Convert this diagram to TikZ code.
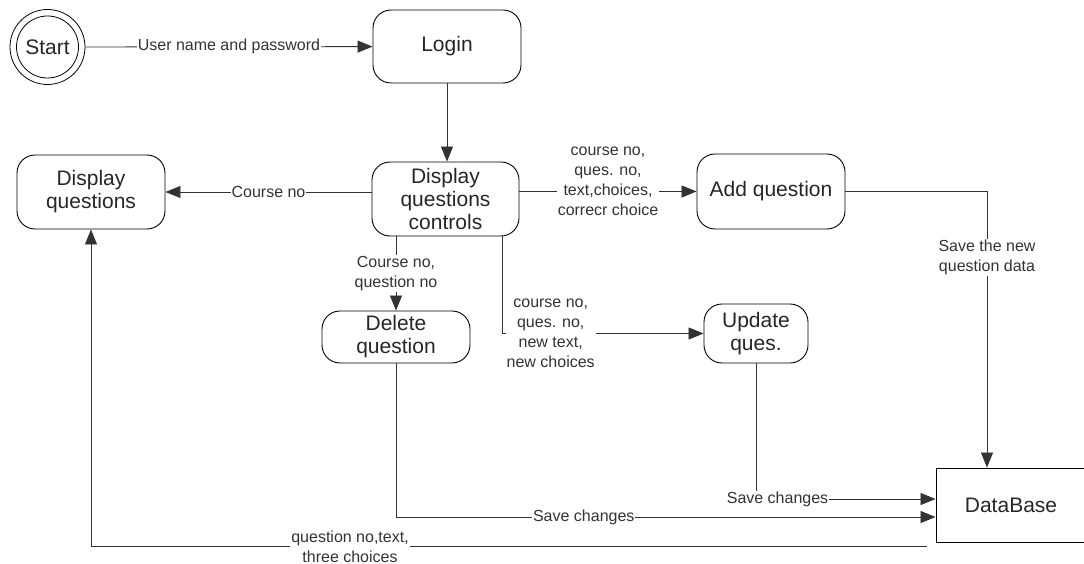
\documentclass[tikz,border=0pt]{standalone}
\usepackage{fontspec}
\setmainfont{Liberation Sans}
\usetikzlibrary{arrows.meta, positioning}

\begin{document}
\begin{tikzpicture}[x=1pt, y=-1pt,
    box/.style={draw, line width=0.9pt, rounded corners=18pt, align=center, inner sep=0pt,
        font=\fontsize{21}{23}\selectfont, text=black!85},
    flow/.style={-{Triangle[length=15pt, width=12pt]}, line width=0.8pt, draw=black!80},
    lbl/.style={fill=white, align=center, inner sep=1pt,
        font=\fontsize{16}{20}\selectfont, text=black!80}]
    \useasboundingbox (0,0) rectangle (1084,564);

    % States
    \node (start) [circle, draw, line width=0.8pt, outer sep=6.9pt, minimum size=62pt, inner sep=0pt,
        font=\fontsize{21}{23}\selectfont, text=black!85] at (47.5,47) {Start};
    \draw[line width=0.8pt] (start.center) circle[radius=37.5pt];
    \node (login) [box, minimum width=148pt, minimum height=73pt] at (447,46.5) {Login};
    \node (dqc) [box, minimum width=147pt, minimum height=74pt] at (445.5,199) {Display\\questions\\controls};
    \node (dq) [box, minimum width=148pt, minimum height=74pt] at (91,192) {Display\\questions};
    \node (add) [box, minimum width=148pt, minimum height=75pt] at (771,191.5) {Add question};
    \node (del) [box, minimum width=148pt, minimum height=52pt] at (396,337) {Delete\\question};
    \node (upd) [box, minimum width=104pt, minimum height=59pt] at (756,333.5) {Update\\ques.};
    \node (db) [box, rounded corners=0pt, minimum width=150pt, minimum height=74pt] at (1011,505) {DataBase};
    \coordinate (dbout) at ([xshift=-9pt, yshift=-4pt]db.south west);

    % Connections
    \draw[flow] (start) -- node[lbl] {User name and password} (login);
    \draw[flow] (login.south) -- (login.south |- dqc.north);
    \draw[flow] (dqc.west |- dq.east) -- node[lbl] {Course no} (dq.east);
    \draw[flow] (dqc.east |- add.west) -- node[lbl, yshift=10pt] {course no,\\ques. no,\\text,choices,\\correcr choice} (add.west);
    \draw[flow] (dqc.south -| del.north) -- node[lbl] {Course no,\\question no} (del.north);
    \draw[flow] ([xshift=-17pt]dqc.south east) |- node[lbl, pos=0.62] {course no,\\ques. no,\\new text,\\new choices} (upd.west);
    \draw[flow] (add.east) -| node[lbl, pos=0.62] {Save the new\\question data} ([xshift=-24pt]db.north);
    \draw[flow] (upd.south) |- node[lbl, pos=0.56] {Save changes} ([yshift=6pt]db.west);
    \draw[flow] (del.south) |- node[lbl, pos=0.674] {Save changes} ([yshift=-12pt]db.west);
    \draw[flow] (dbout) -| node[lbl, pos=0.345] {question no,text,\\three choices} (dq.south);
\end{tikzpicture}
\end{document}
